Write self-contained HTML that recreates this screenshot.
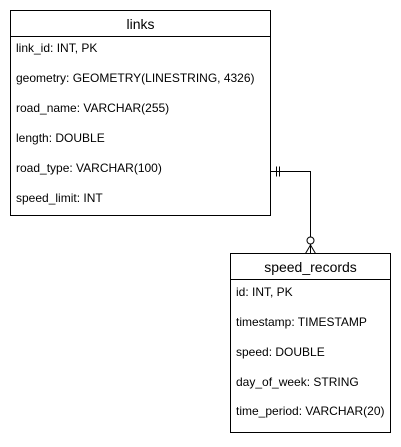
<!DOCTYPE html>
<html><head><style>
body{margin:0;background:#fff;width:401px;height:442px;overflow:hidden}
svg text{font-family:"Liberation Sans",Arial,sans-serif;fill:#000}
</style></head><body>
<svg width="401" height="442" xmlns="http://www.w3.org/2000/svg">
<g fill="none" stroke="#000" stroke-width="1">
<rect x="10.5" y="10.5" width="260" height="205"/>
<line x1="10.5" y1="36.5" x2="270.5" y2="36.5"/>
<rect x="230.5" y="253.5" width="160" height="179"/>
<line x1="230.5" y1="279.5" x2="390.5" y2="279.5"/>
<polyline points="270.5,171.5 310.5,171.5 310.5,253.5"/>
<line x1="276.5" y1="166.5" x2="276.5" y2="176.5"/>
<line x1="279.5" y1="166.5" x2="279.5" y2="176.5"/>
<circle cx="310.5" cy="240.5" r="3.5" fill="#fff"/>
<line x1="310.5" y1="245" x2="305.5" y2="253.5"/>
<line x1="310.5" y1="245" x2="315.5" y2="253.5"/>
</g>
<text x="140.5" y="29" font-size="14" text-anchor="middle">links</text>
<g font-size="12">
<text x="16" y="52">link_id: INT, PK</text>
<text x="16" y="82">geometry: GEOMETRY(LINESTRING, 4326)</text>
<text x="16" y="112">road_name: VARCHAR(255)</text>
<text x="16" y="142">length: DOUBLE</text>
<text x="16" y="172">road_type: VARCHAR(100)</text>
<text x="16" y="202">speed_limit: INT</text>
</g>
<text x="310.5" y="272" font-size="14" text-anchor="middle">speed_records</text>
<g font-size="12">
<text x="236" y="296">id: INT, PK</text>
<text x="236" y="326">timestamp: TIMESTAMP</text>
<text x="236" y="356">speed: DOUBLE</text>
<text x="236" y="386">day_of_week: STRING</text>
<text x="236" y="415">time_period: VARCHAR(20)</text>
</g>
</svg>
</body></html>
